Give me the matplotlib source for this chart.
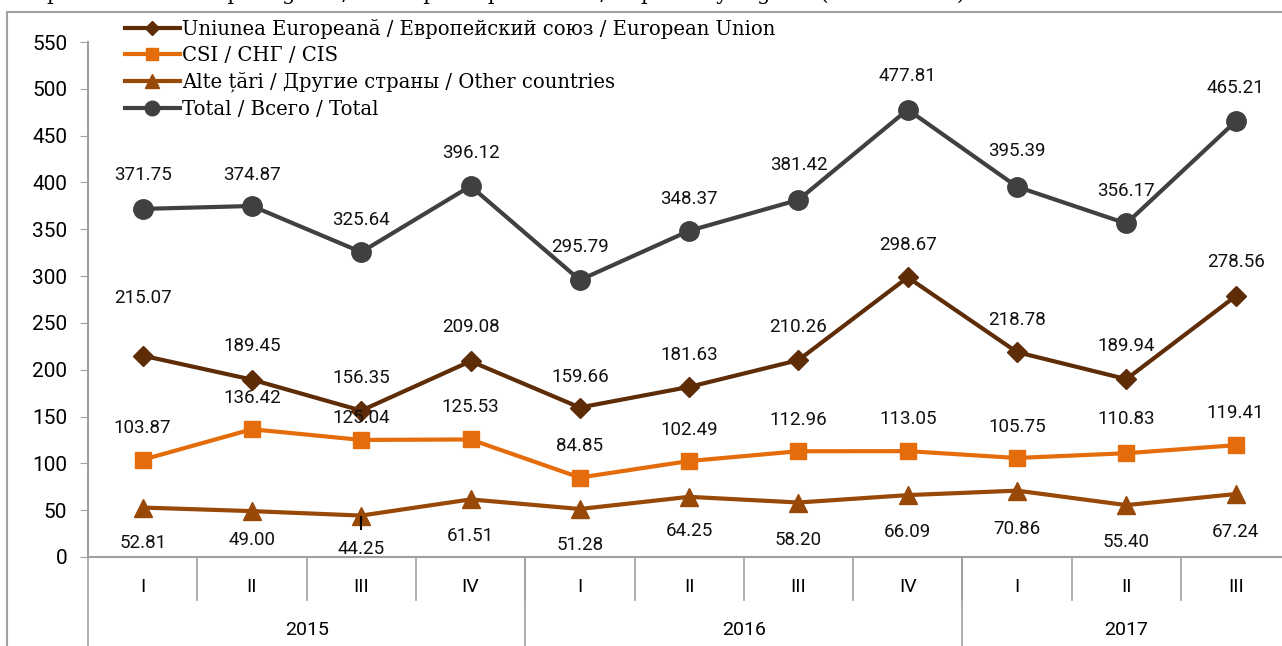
import matplotlib.pyplot as plt
from matplotlib.lines import Line2D
import matplotlib.transforms as mtransforms

# date
quarters = ["I", "II", "III", "IV", "I", "II", "III", "IV", "I", "II", "III"]
years = ["2015", "2016", "2017"]
quarters_per_year = [4, 4, 3]

eu = [215.07, 189.45, 156.35, 209.08, 159.66, 181.63, 210.26, 298.67, 218.78, 189.94, 278.56]
csi = [103.87, 136.42, 125.04, 125.53, 84.85, 102.49, 112.96, 113.05, 105.75, 110.83, 119.41]
alte = [52.81, 49.00, 44.25, 61.51, 51.28, 64.25, 58.20, 66.09, 70.86, 55.40, 67.24]
total = [371.75, 374.87, 325.64, 396.12, 295.79, 348.37, 381.42, 477.81, 395.39, 356.17, 465.21]

labels = ["Uniunea Europeană / Европейский союз / European Union",
          "CSI / СНГ / CIS",
          "Alte țări / Другие страны / Other countries",
          "Total / Всего / Total"]

# deplasarea etichetelor (pixeli)
off_eu = [58, 34, 33, 34, 31, 32, 33, 32, 32, 33, 34]
off_csi = [32, 31, 22, 32, 32, 31, 31, 32, 31, 34, 32]
off_alte = [-35, -29, -33, -37, -36, -34, -37, -37, -38, -37, -38]
off_total = [34, 31, 32, 33, 33, 32, 35, 34, 36, 32, 33]

W, H = 1282, 646
fig = plt.figure(figsize=(W / 100, H / 100), dpi=100)
ax = fig.add_axes([88 / W, 1 - 557 / H, 11 * 109.3 / W, (557 - 42) / H])

narrow = ["Roboto", "DejaVu Sans"]
grey = "#a0a0a0"
fs = 13.5

x = list(range(len(quarters)))
series = [
    (eu, "#5e2c06", "D", 10, off_eu),
    (csi, "#e46c0a", "s", 11, off_csi),
    (alte, "#984807", "^", 13, off_alte),
    (total, "#404040", "o", 14, off_total),
]
for (vals, col, mk, ms, offs), lab in zip(series, labels):
    ax.plot(x, vals, color=col, lw=3, marker=mk, ms=ms, label=lab, zorder=3)
    for xi, v, o in zip(x, vals, offs):
        ax.annotate(f"{v:.2f}", (xi, v), xytext=(0, o), textcoords="offset pixels",
                    ha="center", va="center", fontsize=fs, family=narrow, color="#111111")

# mica linie neagra de pe grafic
ax.plot([2], [alte[2] - 8], marker="|", ms=10, mew=1.5, color="black", zorder=4)

ax.set_xlim(-0.5, len(quarters) - 0.5)
ax.set_ylim(0, 550)
ax.set_yticks(range(0, 551, 50))
ax.tick_params(axis="y", direction="out", length=6, color=grey, labelsize=15, pad=9)
for t in ax.get_yticklabels():
    t.set_family(narrow)
ax.set_xticks([])
for s in ["top", "right"]:
    ax.spines[s].set_visible(False)
for s in ["left", "bottom"]:
    ax.spines[s].set_color(grey)
    ax.spines[s].set_linewidth(1.5)

# axa categoriilor
tr = mtransforms.blended_transform_factory(ax.transData, ax.transAxes)
for i, q in enumerate(quarters):
    ax.text(i, -0.058, q, transform=tr, ha="center", va="center", fontsize=14, family=narrow)
    if i > 0:
        ax.plot([i - 0.5, i - 0.5], [0, -0.083], transform=tr, color=grey, lw=1.2, clip_on=False)
start = 0
for y, n in zip(years, quarters_per_year):
    ax.plot([start - 0.5, start - 0.5], [0, -0.2], transform=tr, color=grey, lw=1.2, clip_on=False)
    ax.text(start + (n - 1) / 2, -0.142, y, transform=tr, ha="center", va="center",
            fontsize=14, family=narrow)
    start += n

leg = ax.legend(loc="upper left", bbox_to_anchor=(117 / W, 1 - 11 / H), bbox_transform=fig.transFigure,
                frameon=False, prop={"family": "DejaVu Serif", "size": 14.1},
                handlelength=2.8, handletextpad=0.1, labelspacing=0.36, borderaxespad=0,
                markerscale=0.75)

# chenarul exterior
fig.add_artist(Line2D([7 / W, 7 / W], [0, 1 - 12 / H], color=grey, lw=1.5))
fig.add_artist(Line2D([7 / W, 1], [1 - 12 / H, 1 - 12 / H], color=grey, lw=1.5))

# titlul taiat de sus
fig.text(20 / W, 1 + 6 / H, "Exportul de bunuri pe regiuni / Экспорт по регионам / Exports by regions (USD million)",
         ha="left", va="center", fontsize=15, family="DejaVu Serif")

fig.savefig("out.png", dpi=100)
